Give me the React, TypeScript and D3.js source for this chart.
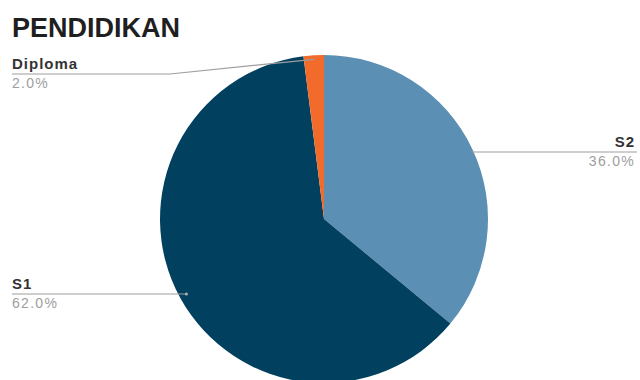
import React from "react";
import * as d3 from "d3";

const title = "PENDIDIKAN";
const categories = ["S2", "S1", "Diploma"];
const values = [36, 62, 2];
const colors = ["#5b8fb4", "#01415f", "#f36b2b"];

const W = 640;
const H = 380;
const cx = 324;
const cy = 219;
const R = 164;

// label layout per category: side, line y, optional knee x
const labelLayout: Record<string, { side: "left" | "right"; lineY: number; knee?: number }> = {
  S2: { side: "right", lineY: 152 },
  S1: { side: "left", lineY: 294 },
  Diploma: { side: "left", lineY: 74, knee: 170 },
};

export default function App() {
  const data = categories.map((c, i) => ({ c, v: values[i], color: colors[i] }));
  const pie = d3.pie<any>().sort(null).value((d) => d.v).startAngle(0).endAngle(2 * Math.PI);
  const arcs = pie(data);
  const arc = d3.arc<any>().innerRadius(0).outerRadius(R);
  const total = d3.sum(values);
  const fmt = d3.format(".1%");

  return (
    <svg width={W} height={H} style={{ position: "absolute", left: 0, top: 0 }} fontFamily="Liberation Sans, Arial, sans-serif">
      <rect width={W} height={H} fill="#fff" />
      <text x={12} y={37} fontSize={27} fontWeight="bold" fill="#1f1f1f">{title}</text>
      <g transform={`translate(${cx},${cy})`}>
        {arcs.map((a, i) => (
          <path key={i} d={arc(a) as string} fill={a.data.color} />
        ))}
      </g>
      {arcs.map((a, i) => {
        const lay = labelLayout[a.data.c];
        const mid = (a.startAngle + a.endAngle) / 2;
        const isInner = a.data.c === "S1";
        const rr = isInner ? R - 7 : a.data.c === "Diploma" ? R - 4 : R - 1;
        const ex = cx + rr * Math.sin(mid);
        const ey = cy - rr * Math.cos(mid);
        const lx = lay.side === "left" ? 12 : 637;
        const anchor = lay.side === "left" ? "start" : "end";
        const tx = lay.side === "left" ? 12 : 635;
        let d: string;
        if (lay.knee !== undefined) {
          d = `M${lx},${lay.lineY}L${lay.knee},${lay.lineY}L${ex},${ey}`;
        } else {
          d = `M${lx},${lay.lineY}L${ex},${lay.lineY}`;
        }
        return (
          <g key={"l" + i}>
            <path d={d} fill="none" stroke="#9e9e9e" strokeWidth={1.2} />
            {isInner && <circle cx={ex} cy={lay.lineY} r={1.5} fill="#b0b0b0" />}
            <text x={tx} y={lay.lineY - 5} textAnchor={anchor} fontSize={15} fontWeight="bold" fill="#333" letterSpacing={1}>
              {a.data.c}
            </text>
            <text x={tx} y={lay.lineY + 14} textAnchor={anchor} fontSize={14} fill="#9e9e9e" letterSpacing={1.3}>
              {fmt(a.data.v / total)}
            </text>
          </g>
        );
      })}
    </svg>
  );
}
